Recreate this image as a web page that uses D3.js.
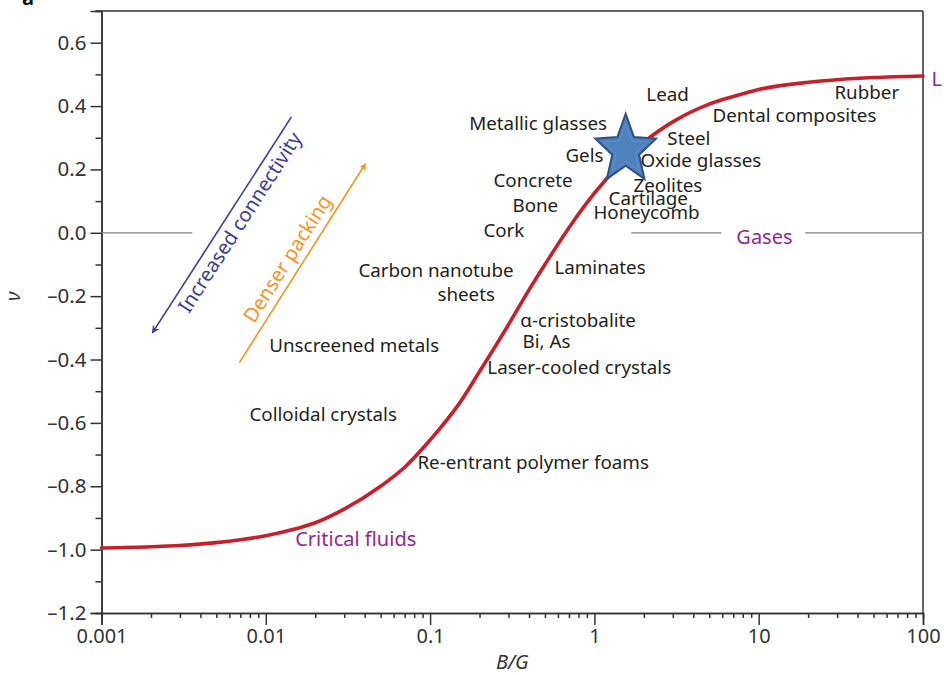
<!DOCTYPE html>
<html>
<head>
<meta charset="utf-8">
<script src="https://cdn.jsdelivr.net/npm/d3@7"></script>
<style>
  html, body { margin: 0; padding: 0; background: #fff; }
  svg { display: block; }
  text { font-family: "Noto Sans", "DejaVu Sans", sans-serif; }
</style>
</head>
<body>
<svg id="chart" width="944" height="675"></svg>
<script>
// Poisson's ratio ν versus bulk-to-shear modulus ratio B/G
const bgValues = [0.001, 0.002, 0.003, 0.005, 0.007, 0.01, 0.015, 0.02, 0.03, 0.05, 0.07,
                  0.1, 0.15, 0.2, 0.3, 0.4, 0.5, 0.7, 1, 1.5, 2, 3, 5, 7, 10, 20, 30, 50, 100];
const nuValues = [-0.995, -0.991, -0.987, -0.978, -0.969, -0.956, -0.935, -0.915, -0.872, -0.80, -0.74,
                  -0.654, -0.54, -0.438, -0.29, -0.18, -0.10, 0.016, 0.125, 0.227, 0.286, 0.35, 0.406, 0.43,
                  0.452, 0.475, 0.483, 0.49, 0.495];

const xTickValues = [0.001, 0.01, 0.1, 1, 10, 100];
const xTickLabels = ["0.001", "0.01", "0.1", "1", "10", "100"];
const yTickValues = [-1.2, -1.0, -0.8, -0.6, -0.4, -0.2, 0.0, 0.2, 0.4, 0.6];
const yTickLabels = ["\u20131.2", "\u20131.0", "\u20130.8", "\u20130.6", "\u20130.4", "\u20130.2",
                     "0.0", "0.2", "0.4", "0.6"];

// material classes, anchored by their left edge at (B/G, ν)
const materialNames = ["Lead", "Metallic glasses", "Gels", "Steel", "Oxide glasses", "Zeolites",
  "Cartilage", "Honeycomb", "Concrete", "Bone", "Cork", "Dental composites", "Rubber",
  "Carbon nanotube", "sheets", "Laminates", "\u03b1-cristobalite", "Bi, As", "Laser-cooled crystals",
  "Unscreened metals", "Colloidal crystals", "Re-entrant polymer foams"];
const materialBG = [2.07, 0.173, 0.666, 2.78, 1.905, 1.73, 1.22, 0.986, 0.243, 0.317, 0.211, 5.23, 28.9,
  0.0366, 0.1108, 0.571, 0.354, 0.365, 0.223, 0.0105, 0.00795, 0.0837];
const materialNu = [0.436, 0.344, 0.243, 0.297, 0.227, 0.148, 0.107, 0.063, 0.164, 0.085, 0.009, 0.369, 0.442,
  -0.12, -0.196, -0.11, -0.275, -0.344, -0.426, -0.357, -0.574, -0.726];

// limiting states of matter
const stateNames = ["Critical fluids", "Gases", "L"];
const stateBG = [0.0151, 7.31, 112.5];
const stateNu = [-0.966, -0.013, 0.486];

// ν = 0 reference segments (B/G start, end)
const zeroLineStart = [0.001, 1.68, 19.2];
const zeroLineEnd = [0.00357, 5.93, 100];

// highlighted material (star)
const starBG = [1.55];
const starNu = [0.262];

// trend arrows: from (B/G, ν) to arrow tip (B/G, ν), text centre (B/G, ν)
const trendNames = ["Increased connectivity", "Denser packing"];
const trendFromBG = [0.01432, 0.0069];
const trendFromNu = [0.366, -0.41];
const trendToBG = [0.00204, 0.0404];
const trendToNu = [-0.316, 0.218];
const trendTextBG = [0.00695, 0.01353];
const trendTextNu = [0.033, -0.082];
const trendColors = ["#3b3b9c", "#f7931e"];

const svg = d3.select("#chart");
const mLeft = 101.5, mRight = 923, mTop = 11, mBottom = 613;

const x = d3.scaleLog().domain([0.001, 100]).range([mLeft, mRight]);
const y = d3.scaleLinear().domain([-1.2, 0.7]).range([mBottom, mTop]);

const axisColor = "#333";
const purple = "#93278f";
const textColor = "#231f20";

// panel letter
svg.append("text").attr("x", 22).attr("y", 5)
  .attr("font-size", 20).attr("font-weight", "bold").attr("fill", "#111").text("a");

// frame top and right
svg.append("line").attr("x1", mLeft - 6).attr("x2", mRight).attr("y1", mTop).attr("y2", mTop)
  .attr("stroke", axisColor).attr("stroke-width", 1.5);
svg.append("line").attr("x1", mRight).attr("x2", mRight).attr("y1", mTop).attr("y2", mBottom)
  .attr("stroke", axisColor).attr("stroke-width", 1.5);

// x axis (log) with minor ticks
const xMinor = [];
for (let e = -3; e < 2; e++) for (let k = 2; k <= 9; k++) xMinor.push(k * Math.pow(10, e));
const xAxisMinor = d3.axisBottom(x).tickValues(xMinor).tickSize(5).tickFormat("");
const xAxis = d3.axisBottom(x).tickValues(xTickValues).tickSize(12)
  .tickFormat((d, i) => xTickLabels[i]).tickPadding(4);
const gxm = svg.append("g").attr("transform", `translate(0,${mBottom})`).call(xAxisMinor);
const gx = svg.append("g").attr("transform", `translate(0,${mBottom})`).call(xAxis);
[gx, gxm].forEach(g => {
  g.select(".domain").attr("stroke", axisColor).attr("stroke-width", 1.5);
  g.selectAll(".tick line").attr("stroke", axisColor).attr("stroke-width", 1.5);
});
gx.selectAll(".tick text").attr("font-size", 20).attr("fill", axisColor)
  .attr("font-family", "'Noto Sans', sans-serif");

// y axis with minor ticks
const yMinor = d3.range(-11, 7, 2).map(v => v / 10);
const yAxisMinor = d3.axisLeft(y).tickValues(yMinor).tickSize(6).tickFormat("");
const yAxis = d3.axisLeft(y).tickValues(yTickValues).tickSize(11)
  .tickFormat((d, i) => yTickLabels[i]).tickPadding(4);
const gym = svg.append("g").attr("transform", `translate(${mLeft},0)`).call(yAxisMinor);
const gy = svg.append("g").attr("transform", `translate(${mLeft},0)`).call(yAxis);
[gy, gym].forEach(g => {
  g.select(".domain").attr("stroke", axisColor).attr("stroke-width", 1.5);
  g.selectAll(".tick line").attr("stroke", axisColor).attr("stroke-width", 1.5);
});
gy.selectAll(".tick text").attr("font-size", 20.5).attr("fill", axisColor)
  .attr("font-family", "'Noto Sans', sans-serif");

// axis titles
svg.append("text").attr("x", (x(0.1) + x(1)) / 2).attr("y", 669)
  .attr("text-anchor", "middle").attr("font-size", 20).attr("font-style", "italic")
  .attr("fill", axisColor).text("B/G");
svg.append("text").attr("transform", `translate(20,${y(-0.2)}) rotate(-90)`)
  .attr("text-anchor", "middle").attr("font-size", 20).attr("font-style", "italic")
  .attr("fill", axisColor).text("\u03bd");

// ν = 0 segments
svg.append("g").selectAll("line").data(zeroLineStart).join("line")
  .attr("x1", d => x(d)).attr("x2", (d, i) => x(zeroLineEnd[i]))
  .attr("y1", y(0)).attr("y2", y(0))
  .attr("stroke", "#808080").attr("stroke-width", 1.2);

// curve
const curveData = bgValues.map((b, i) => [b, nuValues[i]]);
svg.append("path").datum(curveData)
  .attr("d", d3.line().x(d => x(d[0])).y(d => y(d[1])).curve(d3.curveMonotoneX))
  .attr("fill", "none").attr("stroke", "#c8202a").attr("stroke-width", 3.6)
  .attr("stroke-linecap", "round");

// trend arrows
const defs = svg.append("defs");
trendColors.forEach((c, i) => {
  defs.append("marker").attr("id", "arrow" + i)
    .attr("viewBox", "0 -5 10 10").attr("refX", 9).attr("refY", 0)
    .attr("markerWidth", i === 0 ? 10 : 8).attr("markerHeight", i === 0 ? 8 : 7)
    .attr("markerUnits", "userSpaceOnUse").attr("orient", "auto")
    .append("path").attr("d", "M0,-5L10,0L0,5L3,0Z").attr("fill", c);
});
trendNames.forEach((name, i) => {
  const x1 = x(trendFromBG[i]), y1 = y(trendFromNu[i]);
  const x2 = x(trendToBG[i]), y2 = y(trendToNu[i]);
  svg.append("line").attr("x1", x1).attr("y1", y1).attr("x2", x2).attr("y2", y2)
    .attr("stroke", trendColors[i]).attr("stroke-width", 1.6)
    .attr("marker-end", `url(#arrow${i})`);
  // text reads upward along the arrow
  const lo = y1 > y2 ? [x1, y1, x2, y2] : [x2, y2, x1, y1];
  const ang = Math.atan2(lo[3] - lo[1], lo[2] - lo[0]) * 180 / Math.PI;
  svg.append("text")
    .attr("transform", `translate(${x(trendTextBG[i])},${y(trendTextNu[i])}) rotate(${ang})`)
    .attr("text-anchor", "middle").attr("dy", "0.35em")
    .attr("font-size", 20).attr("fill", trendColors[i]).text(name);
});

// material labels
svg.append("g").selectAll("text").data(materialNames).join("text")
  .attr("x", (d, i) => x(materialBG[i])).attr("y", (d, i) => y(materialNu[i]))
  .attr("dy", "0.35em").attr("font-size", 18.8).attr("fill", textColor).text(d => d);

// star
const starPts = [];
for (let k = 0; k < 10; k++) {
  const a = -Math.PI / 2 + k * Math.PI / 5;
  const r = k % 2 === 0 ? 1 : 0.44;
  starPts.push([Math.cos(a) * r * 32, Math.sin(a) * r * 36]);
}
const starPath = "M" + starPts.map(p => p.join(",")).join("L") + "Z";
const starG = svg.append("g").selectAll("g").data(starBG).join("g")
  .attr("transform", (d, i) => `translate(${x(d)},${y(starNu[i])})`);
starG.append("path").attr("d", starPath)
  .attr("fill", "#4f81bd").attr("stroke", "#2e5286").attr("stroke-width", 2);
// soft bevel highlight inside the star
starG.append("path").attr("d", starPath).attr("transform", "scale(0.72)")
  .attr("fill", "none").attr("stroke", "#6f9bd1").attr("stroke-width", 1.2).attr("opacity", 0.7);

// states of matter labels
svg.append("g").selectAll("text").data(stateNames).join("text")
  .attr("x", (d, i) => x(stateBG[i])).attr("y", (d, i) => y(stateNu[i]))
  .attr("dy", "0.35em").attr("font-size", 20).attr("fill", purple).text(d => d);
</script>
</body>
</html>
